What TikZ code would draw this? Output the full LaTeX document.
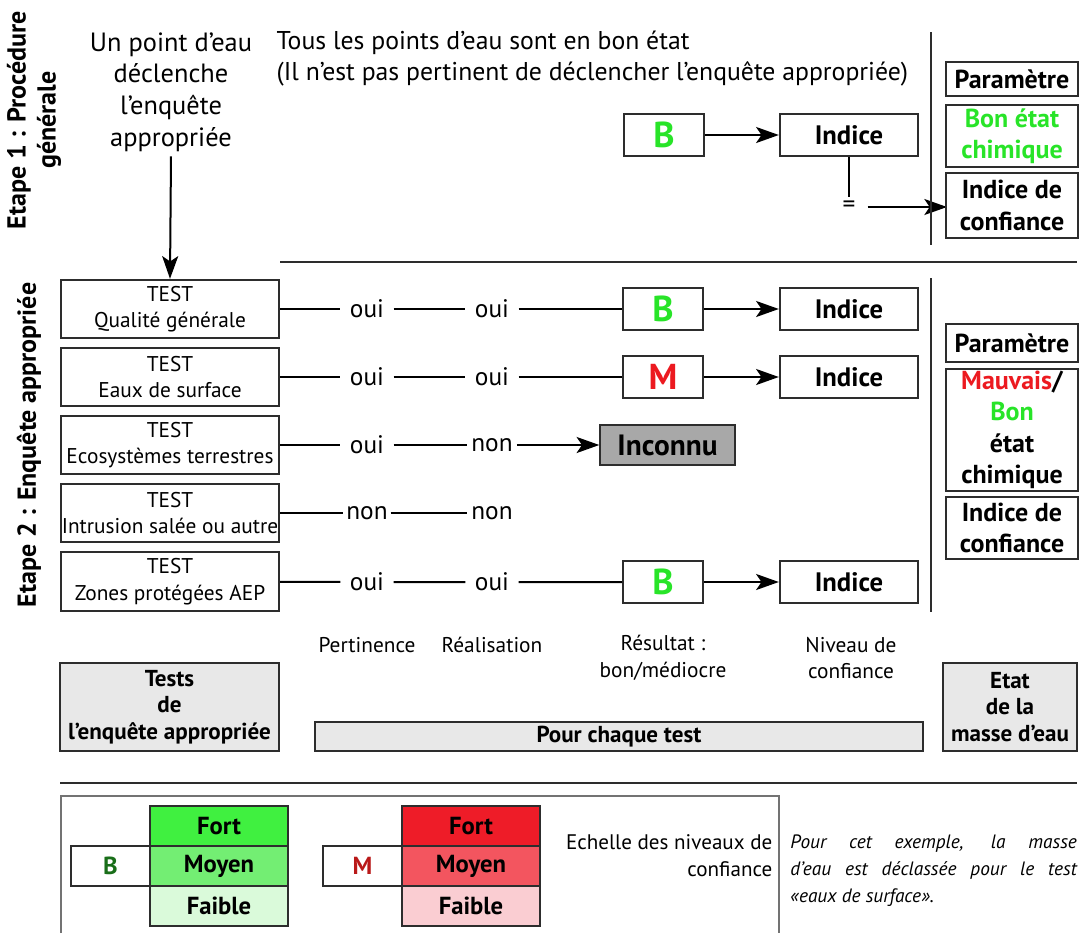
\documentclass[tikz,border=0pt]{standalone}
\usepackage{fontspec}
\setmainfont{PT Sans}
\usepackage{xcolor}
\usetikzlibrary{arrows.meta}

\definecolor{okgreen}{RGB}{40,228,40}
\definecolor{badred}{RGB}{236,26,32}
\definecolor{inkgrey}{RGB}{45,45,45}
\definecolor{panelgrey}{RGB}{232,232,232}
\definecolor{unkgrey}{RGB}{168,168,168}
\definecolor{gfort}{RGB}{64,240,64}
\definecolor{gmoyen}{RGB}{115,238,115}
\definecolor{gfaible}{RGB}{218,250,218}
\definecolor{rfort}{RGB}{238,28,40}
\definecolor{rmoyen}{RGB}{243,85,95}
\definecolor{rfaible}{RGB}{250,205,210}
\definecolor{darkgreen}{RGB}{25,110,25}
\definecolor{darkred}{RGB}{185,25,25}

\tikzset{
  box/.style={draw=inkgrey,line width=1.3pt,inner sep=0pt,align=center},
  testbox/.style={box,minimum width=164pt,minimum height=44pt,
    font=\fontsize{16}{20}\selectfont},
  gradebox/.style={box,minimum width=60pt,minimum height=31pt,
    font=\bfseries\fontsize{27}{27}\selectfont},
  idxbox/.style={box,minimum width=104pt,minimum height=31pt,
    font=\bfseries\fontsize{20}{20}\selectfont},
  sidebox/.style={box,line width=1.5pt,minimum width=99pt,
    font=\bfseries\fontsize{19.5}{23.5}\selectfont},
  panel/.style={box,fill=panelgrey,font=\bfseries\fontsize{17.3}{20}\selectfont},
  cell/.style={box,minimum width=103.5pt,minimum height=30pt,
    font=\bfseries\fontsize{18.5}{18}\selectfont},
  answer/.style={inner ysep=0pt,inner xsep=7pt,font=\fontsize{19}{20}\selectfont},
  caption/.style={align=center,font=\fontsize{16}{20}\selectfont},
  link/.style={line width=1.5pt,draw=black},
  flow/.style={link,-{Stealth[length=17pt,width=12pt,inset=4pt]}},
  rule/.style={line width=1.4pt,draw=inkgrey}
}

\begin{document}
\begin{tikzpicture}[x=0.75pt,y=-0.75pt]
\useasboundingbox (0,0) rectangle (1083,933);

% Etape 1
\node[rotate=90,align=center,font=\bfseries\fontsize{19.5}{22.5}\selectfont] (stage1) at (34,120)
  {Etape 1 : Procédure\\générale};
\node[align=center,font=\fontsize{19.8}{23.8}\selectfont] (trigger) at (171,92)
  {Un point d’eau\\déclenche\\l’enquête\\appropriée};
\node[anchor=north west,align=left,font=\fontsize{19.3}{23.3}\selectfont] (allgood) at (272,26)
  {Tous les points d’eau sont en bon état\\(Il n’est pas pertinent de déclencher l’enquête appropriée)};

\node[gradebox,text=okgreen] (b0) at (664,135) {B};
\node[idxbox] (idx0) at (849,135) {Indice};
\node[inner xsep=9pt,font=\fontsize{19}{20}\selectfont] (eq) at (849,207) {=};
\draw[flow] (b0) -- (idx0);
\draw[link] (idx0.south) -- (eq.north);
\draw[flow] (eq.east) -- (947,207) coordinate (c0);

\node[sidebox,minimum height=25.5pt] (par0) at (1012,79) {Paramètre};
\node[sidebox,minimum height=46.5pt,text=okgreen] (bon0) at (1012,136) {Bon état\\chimique};
\node[sidebox,minimum height=49pt] (conf0) at (1012,205.5) {Indice de\\confiance};

\draw[rule] (931,32) -- (931,245);
\draw[rule] (280,262) -- (1077,262);

% Etape 2
\node[rotate=90,font=\bfseries\fontsize{19.5}{22}\selectfont] (stage2) at (29,445)
  {Etape 2 : Enquête appropriée};

\node[testbox] (test1) at (170,309) {TEST\\Qualité générale};
\node[testbox] (test2) at (170,377) {TEST\\Eaux de surface};
\node[testbox] (test3) at (170,445) {TEST\\Ecosystèmes terrestres};
\node[testbox] (test4) at (170,513) {TEST\\Intrusion salée ou autre};
\node[testbox] (test5) at (170,581.5) {TEST\\Zones protégées AEP};
\draw[flow] (trigger.south) -- (test1.north);

\node[answer] (p1) at (367,309) {oui};
\node[answer] (r1) at (492,309) {oui};
\node[answer] (p2) at (367,377) {oui};
\node[answer] (r2) at (492,377) {oui};
\node[answer] (p3) at (367,445) {oui};
\node[answer,inner xsep=3pt] (r3) at (492,445) {non};
\node[answer,inner xsep=2pt] (p4) at (367,513) {non};
\node[answer,inner xsep=3pt] (r4) at (492,513) {non};
\node[answer] (p5) at (367,582) {oui};
\node[answer] (r5) at (492,582) {oui};

\node[gradebox,text=okgreen] (res1) at (663,309) {B};
\node[gradebox,text=badred] (res2) at (663,377) {M};
\node[box,fill=unkgrey,minimum width=101pt,minimum height=30pt,
  font=\bfseries\fontsize{22}{22}\selectfont] (res3) at (667.5,445) {Inconnu};
\node[gradebox,text=okgreen] (res5) at (663,582) {B};

\node[idxbox] (idx1) at (849,309) {Indice};
\node[idxbox] (idx2) at (849,377) {Indice};
\node[idxbox] (idx5) at (849,582) {Indice};

\draw[link] (test1) -- (p1) (p1) -- (r1) (r1) -- (res1);
\draw[link] (test2) -- (p2) (p2) -- (r2) (r2) -- (res2);
\draw[link] (test3) -- (p3) (p3) -- (r3);
\draw[link] (test4) -- (p4) (p4) -- (r4);
\draw[link] (test5) -- (p5) (p5) -- (r5) (r5) -- (res5);
\draw[flow] (r3) -- (res3);
\draw[flow] (res1) -- (idx1);
\draw[flow] (res2) -- (idx2);
\draw[flow] (res5) -- (idx5);

\draw[rule] (931,278) -- (931,612);
\node[sidebox,minimum height=28pt] (par1) at (1012,343) {Paramètre};
\node[sidebox,minimum height=91pt] (etat1) at (1012,430)
  {\textcolor{badred}{Mauvais}/\\\textcolor{okgreen}{Bon}\\état\\chimique};
\node[sidebox,minimum height=46.5pt] (conf1) at (1012,528) {Indice de\\confiance};

% legende des colonnes
\node[caption] (colp) at (367,645) {Pertinence};
\node[caption] (colr) at (492,645) {Réalisation};
\node[caption] (colres) at (663,658) {Résultat :\\bon/médiocre};
\node[caption] (colniv) at (851,658) {Niveau de\\confiance};

\node[panel,minimum width=164pt,minimum height=66pt] (tests) at (169.5,707)
  {Tests\\de\\l’enquête appropriée};
\node[panel,minimum width=456pt,minimum height=22pt] (each) at (619,736.5) {Pour chaque test};
\node[panel,minimum width=100.5pt,minimum height=66pt] (state) at (1010,707)
  {Etat\\de la\\masse d’eau};

\draw[rule] (60,783) -- (1077,783);

% echelle
\draw[line width=1.3pt,draw=black!55] (61,933) |- (779,796) -- (779,933);
\node[cell,fill=gfort] (gF) at (219,826) {Fort};
\node[cell,fill=gmoyen] (gM) at (219,866) {Moyen};
\node[cell,fill=gfaible] (gW) at (219,906) {Faible};
\node[cell,minimum width=59pt,text=darkgreen] (gB) at (110.5,866) {B};
\node[cell,fill=rfort] (rF) at (471,826) {Fort};
\node[cell,fill=rmoyen] (rM) at (471,866) {Moyen};
\node[cell,fill=rfaible] (rW) at (471,906) {Faible};
\node[cell,minimum width=59pt,text=darkred] (rB) at (362.5,866) {M};

\node[anchor=north east,align=right,font=\fontsize{15.8}{20}\selectfont] (scale) at (777,830)
  {Echelle des niveaux de\\confiance};
\node[anchor=north west,text width=215pt,align=justify,inner sep=0pt,
  font=\itshape\fontsize{14.5}{20}\selectfont] (note) at (790,835)
  {Pour cet exemple, la masse\linebreak d’eau est déclassée pour le test\linebreak «eaux de surface».};
\end{tikzpicture}
\end{document}
